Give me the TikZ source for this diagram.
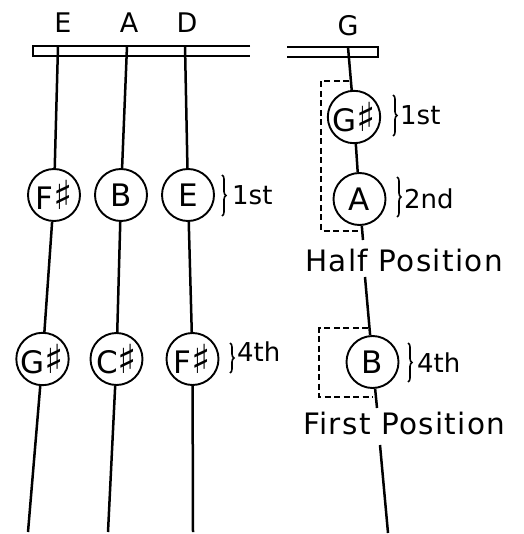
\documentclass[tikz,border=0pt]{standalone}
\usepackage{fontspec}
\setmainfont{DejaVu Sans}
\usetikzlibrary{decorations.pathreplacing}
\newcommand\shrp{{\fontsize{40}{40}\selectfont ♯}}
\begin{document}
\begin{tikzpicture}[x=1pt,y=-1pt,
  note/.style={circle,draw,line width=1.9pt,minimum size=52pt,inner sep=0pt,font=\fontsize{31}{33}\selectfont},
  lab/.style={font=\fontsize{27}{29}\selectfont,inner sep=0pt,anchor=base},
  fing/.style={font=\fontsize{26}{28}\selectfont,inner sep=0pt,anchor=base west},
  posl/.style={font=\fontsize{29.5}{31}\selectfont\addfontfeature{LetterSpace=4.5},inner sep=0pt,anchor=base west},
  str/.style={line width=2.5pt},
  nut/.style={line width=2.3pt},
  box/.style={dash pattern=on 6pt off 3.5pt,line width=1.9pt},
  br/.style={decorate,decoration={brace,amplitude=4pt},line width=1.6pt}]
\useasboundingbox (0,0) rectangle (523,534);
% string labels
\node[lab] (lE) at (63,33) {E};
\node[lab] (lA) at (129,33) {A};
\node[lab] (lD) at (187,33) {D};
\node[lab] (lG) at (348,36) {G};
% nuts
\draw[nut] (250,46) -- (33,46) -- (33,56) -- (250,56);
\draw[nut] (287,47) -- (378,47) -- (378,57) -- (287,57);
% string end points
\coordinate (Etop) at (58,46);
\coordinate (Ebot) at (28,532);
\coordinate (Atop) at (127,46);
\coordinate (Abot) at (108,532);
\coordinate (Dtop) at (185,46);
\coordinate (Dbot) at (193,532);
\coordinate (Gtop) at (348,47);
\coordinate (G1) at (363,240);
\coordinate (G2) at (365,277);
\coordinate (G3) at (377,408);
\coordinate (G4) at (380,445);
\coordinate (Gbot) at (388,533);
% notes
\node[note] (Efs) at (54,195) {F\shrp};
\node[note] (Ab) at (121,195) {B};
\node[note] (De) at (188,195) {E};
\node[note] (Egs) at (42.5,359) {G\shrp};
\node[note] (Acs) at (116.5,359) {C\shrp};
\node[note] (Dfs) at (192.5,359) {F\shrp};
\node[note] (Ggs) at (354,117) {G\shrp};
\node[note] (Ga) at (359.5,199) {A};
\node[note] (Gb) at (372.5,362) {B};
% strings
\draw[str] (Etop) -- (Efs);
\draw[str] (Efs) -- (Egs);
\draw[str] (Egs) -- (Ebot);
\draw[str] (Atop) -- (Ab);
\draw[str] (Ab) -- (Acs);
\draw[str] (Acs) -- (Abot);
\draw[str] (Dtop) -- (De);
\draw[str] (De) -- (Dfs);
\draw[str] (Dfs) -- (Dbot);
\draw[str] (Gtop) -- (Ggs);
\draw[str] (Ggs) -- (Ga);
\draw[str] (Ga) -- (G1);
\draw[str] (G2) -- (Gb);
\draw[str] (Gb) -- (G3);
\draw[str] (G4) -- (Gbot);
% dashed position brackets
\draw[box] (349,81) -- (321,81) -- (321,231) -- (360,231);
\draw[box] (368,328) -- (319,328) -- (319,397) -- (373,397);
% braces
\draw[br] (222,175) -- (222,216);
\draw[br] (230,343) -- (230,373);
\draw[br] (393,95) -- (393,136);
\draw[br] (397,177) -- (397,217);
\draw[br] (408,343) -- (408,382);
% finger labels
\node[fing] (f1) at (232,205) {1st};
\node[fing] (f4) at (237,361) {4th};
\node[fing] (g1) at (400,125) {1st};
\node[fing] (g2) at (404,208) {2nd};
\node[fing] (g4) at (417,372) {4th};
% position labels
\node[posl] (half) at (305,271) {Half Position};
\node[posl] (first) at (303,434) {First Position};
\end{tikzpicture}
\end{document}
